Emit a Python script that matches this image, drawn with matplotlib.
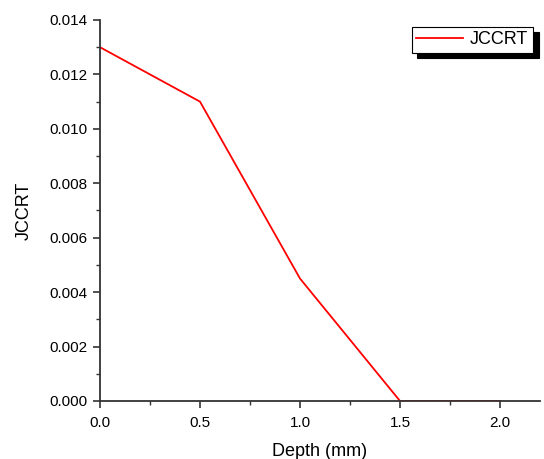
import matplotlib.pyplot as plt
from matplotlib.ticker import MultipleLocator

plt.rcParams['font.family'] = ['Liberation Sans', 'DejaVu Sans']

# data
depth = [0.0, 0.5, 1.0, 1.5, 2.0]
jccrt = [0.013, 0.011, 0.0045, 0.0, 0.0]

fig = plt.figure(figsize=(5.44, 4.59), dpi=100)
ax = fig.add_axes([100/544, 58/459, 440/544, 381/459])

ax.plot(depth, jccrt, color='red', lw=1.3, label='JCCRT')

ax.set_xlim(0, 2.2)
ax.set_ylim(0, 0.014)
ax.xaxis.set_major_locator(MultipleLocator(0.5))
ax.xaxis.set_minor_locator(MultipleLocator(0.25))
ax.yaxis.set_major_locator(MultipleLocator(0.002))
ax.yaxis.set_minor_locator(MultipleLocator(0.001))
ax.xaxis.set_major_formatter(plt.FormatStrFormatter('%.1f'))
ax.yaxis.set_major_formatter(plt.FormatStrFormatter('%.3f'))

for s in ['top', 'right']:
    ax.spines[s].set_visible(False)
for s in ['left', 'bottom']:
    ax.spines[s].set_linewidth(1.3)
    ax.spines[s].set_color('#333333')
ax.tick_params(which='major', direction='out', length=5, width=1.2, labelsize=11,
               colors='#333333', labelcolor='black', pad=4)
ax.tick_params(axis='x', which='major', pad=6)
ax.tick_params(which='minor', direction='out', length=3, width=1.0, colors='#333333')

ax.set_xlabel('Depth (mm)', fontsize=13, labelpad=9)
ax.set_ylabel('JCCRT', fontsize=13, labelpad=12)

leg = ax.legend(loc='upper right', bbox_to_anchor=(0.984, 0.982), borderaxespad=0,
                fancybox=False, edgecolor='black', framealpha=1, fontsize=13,
                handlelength=2.6, handletextpad=0.4, borderpad=0.25,
                shadow={'color': 'black', 'alpha': 1, 'ox': 4, 'oy': -4})
leg.get_frame().set_linewidth(0.8)

fig.savefig('out.png', dpi=100)
